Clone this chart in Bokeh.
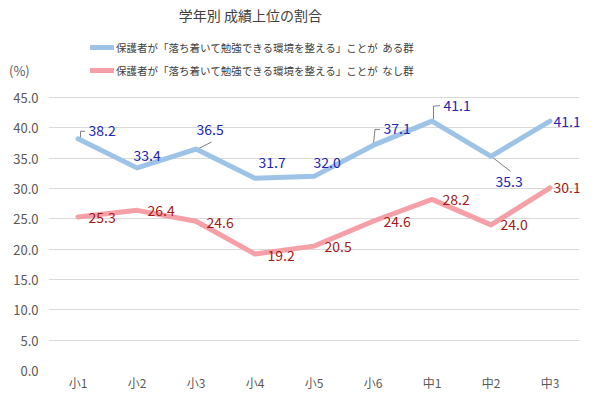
from bokeh.plotting import figure
from bokeh.models import (ColumnDataSource, Range1d, FixedTicker, LabelSet, Label,
                          Legend, LegendItem)
from bokeh.core.properties import value
from bokeh.embed import file_html
from bokeh.resources import INLINE

# ---- data ----
grades = ["小1", "小2", "小3", "小4", "小5", "小6", "中1", "中2", "中3"]
with_group = [38.2, 33.4, 36.5, 31.7, 32.0, 37.1, 41.1, 35.3, 41.1]
without_group = [25.3, 26.4, 24.6, 19.2, 20.5, 24.6, 28.2, 24.0, 30.1]
y_ticks = [0, 5, 10, 15, 20, 25, 30, 35, 40, 45]
y_tick_labels = ["0.0", "5.0", "10.0", "15.0", "20.0", "25.0", "30.0", "35.0", "40.0", "45.0"]
title_text = "学年別  成績上位の割合"
legend_with = "保護者が「落ち着いて勉強できる環境を整える」ことが  ある群"
legend_without = "保護者が「落ち着いて勉強できる環境を整える」ことが  なし群"
unit_text = "(%)"

# ---- styling (label offsets in screen px) ----
blue_xo = [10.5, -3.5, 0.5, 3.5, -0.5, 10.5, 11.5, 4.5, 3.5]
blue_yo = [8, 12.5, 19.5, 16, 14, 17, 16, -25, 0]
red_xo = [10.5, 10.5, 10.5, 12.5, 10.5, 10.5, 10.5, 9.5, 3.5]
red_yo = [0, 0, -1, -1, 0, 0, 0, 0, 0]
# leader lines: (index, list of (dx px, dy px up))
leaders = [
    (0, [(2.5, 0), (2.5, 7.5), (7, 7.5)]),
    (2, [(1.5, 0), (15.5, 7)]),
    (5, [(0.5, 2), (2, 16), (7, 16)]),
    (6, [(1.5, 2), (1.5, 15), (8, 15.5)]),
    (7, [(1.5, -1), (19.5, -15)]),
]

FONT = "Noto Sans CJK JP"
BLUE = "#9dc3e6"
RED = "#f4a0a6"
BLUE_TXT = "#2323b4"
RED_TXT = "#a31a1a"
GRAY_TXT = "#595959"

W, H = 600, 404
LEFT, RIGHT, BOTTOM = 48, 21, 34
FRAME_H = H - BOTTOM              # frame reaches the top edge
PX_PER_UNIT = 273.0 / 45.0
Y_TOP = FRAME_H / PX_PER_UNIT     # data value at the top edge
FRAME_W = W - LEFT - RIGHT

p = figure(width=W, height=H, output_backend="svg", toolbar_location=None, title=None,
           x_range=Range1d(-0.5, len(grades) - 0.5), y_range=Range1d(0, Y_TOP),
           min_border_left=LEFT, min_border_right=RIGHT, min_border_top=0,
           min_border_bottom=BOTTOM)
p.outline_line_color = None
p.background_fill_color = "white"

# axes
unit_pos = 45 + 27 / PX_PER_UNIT
p.xaxis.ticker = FixedTicker(ticks=list(range(len(grades))))
p.xaxis.major_label_overrides = {i: g for i, g in enumerate(grades)}
p.yaxis.ticker = FixedTicker(ticks=y_ticks + [unit_pos])
overrides = {t: s for t, s in zip(y_ticks, y_tick_labels)}
overrides[unit_pos] = unit_text + "\u00a0\u00a0\u00a0"
p.yaxis.major_label_overrides = overrides
for ax in (p.xaxis[0], p.yaxis[0]):
    ax.axis_line_color = None
    ax.major_tick_line_color = None
    ax.minor_tick_line_color = None
    ax.major_tick_out = 0
    ax.major_tick_in = 0
    ax.major_label_text_font = FONT
    ax.major_label_text_color = GRAY_TXT
p.yaxis.major_label_text_font_size = "13px"
p.xaxis.major_label_text_font_size = "12px"
p.yaxis.major_label_standoff = 10
p.xaxis.major_label_standoff = 3
p.xgrid.grid_line_color = None
p.ygrid.ticker = FixedTicker(ticks=y_ticks)
p.ygrid.grid_line_color = "#d9d9d9"
p.ygrid.grid_line_width = 1

# conversion of px offsets to data units
fx = len(grades) / float(FRAME_W)
fy = 1.0 / PX_PER_UNIT
lx, ly = [], []
for idx, pts in leaders:
    lx.append([idx + dx * fx for dx, dy in pts])
    ly.append([with_group[idx] + dy * fy for dx, dy in pts])
p.multi_line(lx, ly, line_color="#808080", line_width=1)

xs = list(range(len(grades)))
r_blue = p.line(xs, with_group, line_color=BLUE, line_width=5, line_join="round", line_cap="round")
r_red = p.line(xs, without_group, line_color=RED, line_width=5, line_join="round", line_cap="round")

blue_src = ColumnDataSource(dict(x=xs, y=with_group, t=[f"{v:.1f}" for v in with_group],
                                 xo=blue_xo, yo=blue_yo))
red_src = ColumnDataSource(dict(x=xs, y=without_group, t=[f"{v:.1f}" for v in without_group],
                                xo=red_xo, yo=red_yo))
for src, col in ((blue_src, BLUE_TXT), (red_src, RED_TXT)):
    p.add_layout(LabelSet(x="x", y="y", text="t", source=src, x_offset="xo", y_offset="yo",
                          text_font=value(FONT), text_font_size=value("14px"),
                          text_color=col, text_align="left", text_baseline="middle"))

# title
p.add_layout(Label(x=-0.5, y=45, x_offset=203.5, y_offset=83, text=title_text,
                   text_font=FONT, text_font_size="14px", text_color="#404040",
                   text_align="center", text_baseline="middle"))

LEG_ROW, LEG_SP = 20, 3
LEG_TOP = 37
legend = Legend(items=[LegendItem(label=legend_with, renderers=[r_blue]),
                       LegendItem(label=legend_without, renderers=[r_red])],
                location=(42, FRAME_H - LEG_TOP - (2 * LEG_ROW + LEG_SP)),
                orientation="vertical",
                label_text_font=FONT, label_text_font_size="10.5px", label_text_color="#404040",
                glyph_width=24, glyph_height=LEG_ROW, label_height=LEG_ROW, label_standoff=2,
                spacing=LEG_SP, padding=0, margin=0, border_line_color=None,
                background_fill_alpha=0)
p.add_layout(legend, "center")

open("out.html", "w").write(file_html(p, INLINE))
